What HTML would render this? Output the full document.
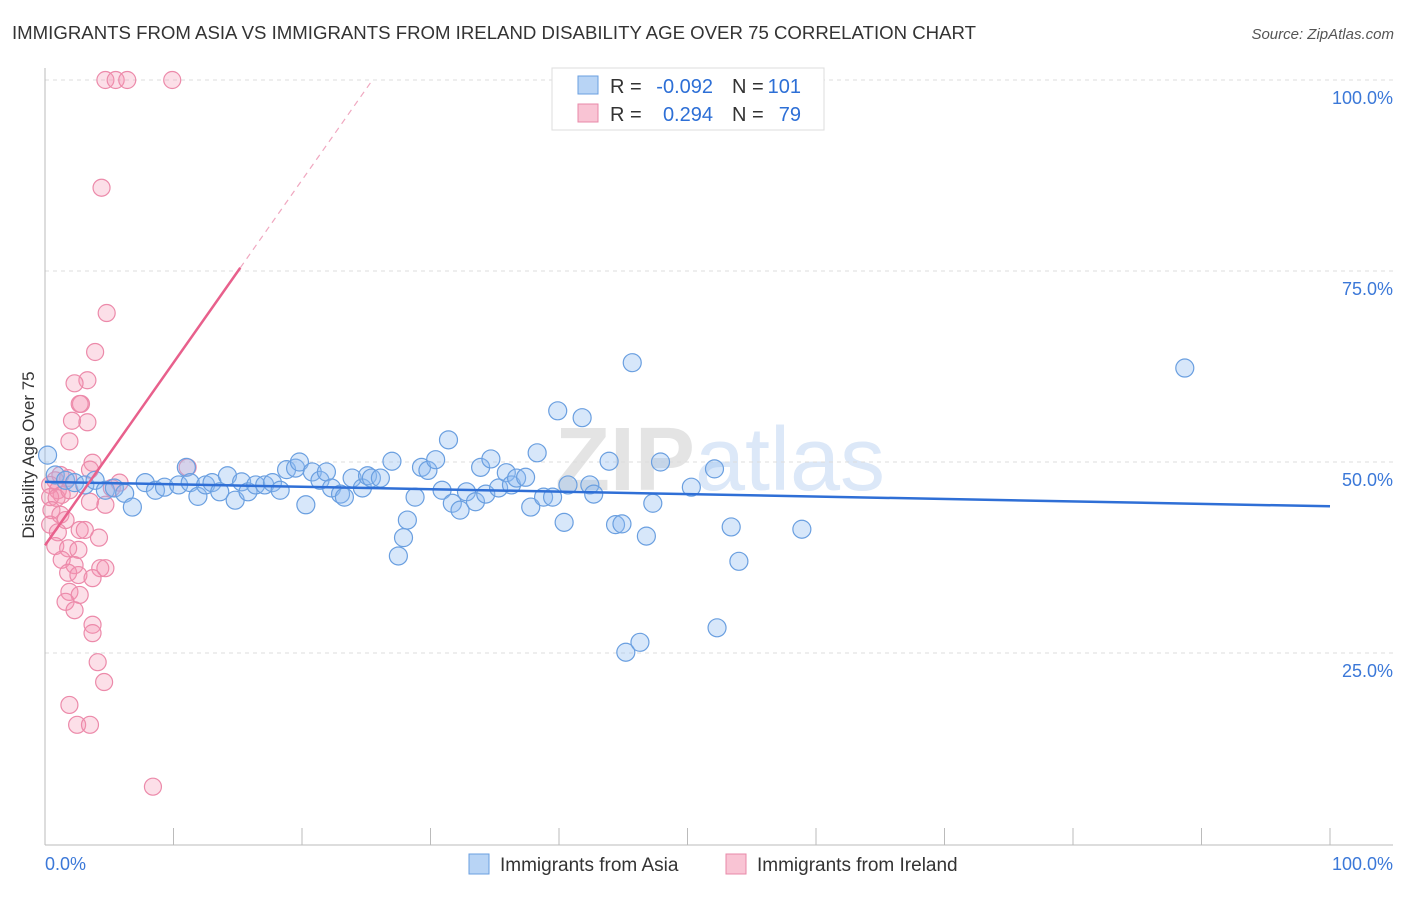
<!DOCTYPE html>
<html><head><meta charset="utf-8"><style>
body{margin:0;background:#fff;font-family:"Liberation Sans",sans-serif;}
</style></head><body>
<svg id="c" width="1406" height="892" xmlns="http://www.w3.org/2000/svg">
<text x="12" y="39" font-size="18" fill="#333" textLength="964" lengthAdjust="spacingAndGlyphs">IMMIGRANTS FROM ASIA VS IMMIGRANTS FROM IRELAND DISABILITY AGE OVER 75 CORRELATION CHART</text>
<text x="1394" y="39" font-size="15" fill="#555" text-anchor="end" font-style="italic">Source: ZipAtlas.com</text>
<text x="720" y="490" font-size="90" fill="#e4e4e4" text-anchor="middle" font-weight="bold">ZIP<tspan fill="#dce8f8" font-weight="normal">atlas</tspan></text>
<g id="grid"></g><g id="axes"></g><g id="pts"></g><g id="trend"></g>
<text transform="translate(34,455) rotate(-90)" font-size="17" fill="#333" text-anchor="middle">Disability Age Over 75</text>
<text x="45" y="870" font-size="18" fill="#3b78d8">0.0%</text>
<text x="1393" y="870" font-size="18" fill="#3b78d8" text-anchor="end">100.0%</text>
<g font-size="20">
<rect x="552" y="68" width="272" height="62" fill="#fff" stroke="#ddd"/>
<rect x="578" y="76" width="20" height="18" fill="#b8d4f5" stroke="#6a9fe0"/>
<rect x="578" y="104" width="20" height="18" fill="#f9c4d4" stroke="#e889a8"/>
<text x="610" y="93" fill="#333">R =</text>
<text x="713" y="93" fill="#2d6fd6" text-anchor="end">-0.092</text>
<text x="732" y="93" fill="#333">N =</text>
<text x="801" y="93" fill="#2d6fd6" text-anchor="end">101</text>
<text x="610" y="121" fill="#333">R =</text>
<text x="713" y="121" fill="#2d6fd6" text-anchor="end">0.294</text>
<text x="732" y="121" fill="#333">N =</text>
<text x="801" y="121" fill="#2d6fd6" text-anchor="end">79</text>
</g>
<g>
<rect x="469" y="854" width="20" height="20" fill="#b8d4f5" stroke="#6a9fe0"/>
<text x="500" y="871" font-size="19" fill="#333">Immigrants from Asia</text>
<rect x="726" y="854" width="20" height="20" fill="#f9c4d4" stroke="#e889a8"/>
<text x="757" y="871" font-size="19" fill="#333">Immigrants from Ireland</text>
</g>
</svg>
<script>
const yTicks=[25,50,75,100];
const yTickLabels=["25.0%","50.0%","75.0%","100.0%"];
const xTicks=[0,10,20,30,40,50,60,70,80,90,100];
const asiaX=[0.2,0.8,1.6,2.3,3.1,3.9,4.7,5.4,6.2,6.8,7.8,8.6,9.3,10.4,11.0,11.3,11.9,12.5,13.0,13.6,14.2,14.8,15.3,15.8,16.4,17.1,17.7,18.3,18.8,19.5,19.8,20.3,20.8,21.4,21.9,22.3,23.0,23.3,23.9,24.7,25.1,25.4,26.1,27.0,27.5,27.9,28.2,28.8,29.3,29.8,30.4,30.9,31.4,31.7,32.3,32.8,33.5,33.9,34.3,34.7,35.3,35.9,36.3,36.7,37.4,37.8,38.3,38.8,39.5,39.9,40.4,40.7,41.8,42.4,42.7,43.9,44.4,44.9,45.2,45.7,46.3,46.8,47.3,47.9,50.3,52.1,52.3,53.4,54.0,58.9,88.7];
const asiaY=[50.9,48.3,47.6,47.3,47.0,47.6,46.3,46.6,45.9,44.1,47.3,46.3,46.7,47.0,49.3,47.3,45.5,47.0,47.3,46.1,48.2,45.0,47.4,46.1,47.0,47.0,47.3,46.3,49.0,49.2,50.0,44.4,48.7,47.6,48.7,46.6,45.8,45.4,47.9,46.6,48.2,47.9,47.9,50.1,37.7,40.1,42.4,45.4,49.3,48.9,50.3,46.3,52.9,44.6,43.7,46.1,44.8,49.3,45.8,50.4,46.6,48.6,47.0,47.9,48.0,44.1,51.2,45.4,45.4,56.7,42.1,47.0,55.8,47.0,45.8,50.1,41.8,41.9,25.1,63.0,26.4,40.3,44.6,50.0,46.7,49.1,28.3,41.5,37.0,41.2,62.3];
const irX=[4.7,5.5,6.4,9.9,4.4,4.8,3.9,3.3,2.3,2.8,2.7,2.1,3.3,1.9,3.7,3.5,11.1,1.2,1.8,0.8,0.4,1.0,1.3,0.4,0.9,1.9,5.8,5.2,3.5,4.7,0.5,1.2,1.6,0.4,2.7,3.1,1.0,4.2,0.8,1.8,2.6,1.3,2.3,4.3,4.7,1.8,2.6,3.7,1.9,2.7,1.6,2.3,3.7,3.7,4.1,4.6,1.9,2.5,3.5,8.4];
const irY=[100,100,100,100,85.9,69.5,64.4,60.7,60.3,57.6,57.6,55.4,55.2,52.7,49.9,49.0,49.3,48.3,47.9,47.6,47.0,46.3,45.7,45.4,45.3,46.3,47.3,46.6,44.8,44.4,43.7,43.1,42.4,41.8,41.1,41.1,40.8,40.1,39.0,38.7,38.5,37.2,36.5,36.1,36.1,35.5,35.2,34.8,33.0,32.6,31.7,30.6,28.7,27.6,23.8,21.2,18.2,15.6,15.6,7.5];
const asiaTrend=[47.4,44.2];
const irTrend=[39.1,2.39];
const NS="http://www.w3.org/2000/svg";
const X=v=>45+v*12.85, Y=v=>844-v*7.64;
function mk(t,a,p){const e=document.createElementNS(NS,t);for(const k in a)e.setAttribute(k,a[k]);document.getElementById(p).appendChild(e);return e;}
yTicks.forEach((t,i)=>{
 const l=mk('line',{x1:45,x2:1393,y1:Y(t),y2:Y(t),stroke:'#ddd','stroke-dasharray':'4,4'},'grid');
 
 
 const tx=mk('text',{x:1393,y:Y(t)+24,'font-size':18,fill:'#3b78d8','text-anchor':'end'},'grid');tx.textContent=yTickLabels[i];
 
 
});
const ax=mk('line',{x1:45,x2:45,y1:68,y2:845,stroke:'#bbb'},'axes');


const bx=mk('line',{x1:45,x2:1393,y1:845,y2:845,stroke:'#bbb'},'axes');


xTicks.forEach(t=>{const l=mk('line',{x1:X(t),x2:X(t),y1:828,y2:845,stroke:'#bbb'},'axes');
 
 });
irX.forEach((x,i)=>{const c=mk('circle',{cx:X(x),cy:Y(irY[i]),r:8.5,fill:'rgba(244,150,180,0.3)',stroke:'#ec8aaa','stroke-width':1.2},'pts');
 
 });
asiaX.forEach((x,i)=>{const c=mk('circle',{cx:X(x),cy:Y(asiaY[i]),r:9,fill:'rgba(140,185,240,0.35)',stroke:'#6a9fe0','stroke-width':1.2},'pts');
 
 });
const bt=mk('line',{x1:X(0),y1:Y(asiaTrend[0]),x2:X(100),y2:Y(asiaTrend[1]),stroke:'#2f6fd6','stroke-width':2.5},'trend');


const xe=15.2, xd=(100-irTrend[0])/irTrend[1];
const pt=mk('line',{x1:X(0),y1:Y(irTrend[0]),x2:X(xe),y2:Y(irTrend[0]+irTrend[1]*xe),stroke:'#e8608c','stroke-width':2.5},'trend');


const pd=mk('line',{x1:X(xe),y1:Y(irTrend[0]+irTrend[1]*xe),x2:X(xd),y2:Y(100),stroke:'#f0a8c0','stroke-width':1.2,'stroke-dasharray':'6,5'},'trend');


</script>
</body></html>
